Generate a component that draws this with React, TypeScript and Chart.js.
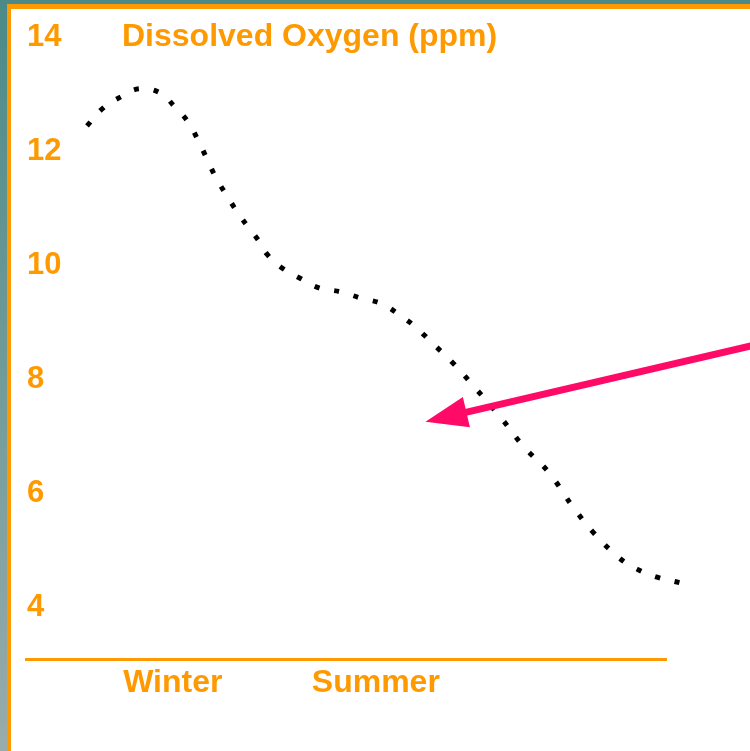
import React, { useEffect, useRef } from "react";
import { Chart, registerables } from "chart.js";

Chart.register(...registerables);

// ---- data ----
const TITLE = "Dissolved Oxygen (ppm)";
const seasonLabels = ["Winter", "Summer"];
const seasonPositions = [22.94, 54.66];
const yTickValues = [4, 6, 8, 10, 12, 14];
const yMin = 3.055;
const yMax = 14;
const xMin = 0;
const xMax = 100;

const timeValues = [
  9.53, 12.03, 14.84, 17.66, 20.94, 23.28, 25.31, 26.88, 28.28, 29.69, 31.41,
  33.13, 34.69, 36.41, 37.66, 40.0, 42.97, 45.78, 49.22, 52.34, 55.63, 58.44,
  60.94, 63.13, 66.56, 70.31, 74.38, 77.66, 81.72, 85.47, 88.59, 92.66, 95.47,
  98.59, 102.19,
];
const oxygenValues = [
  12.4, 12.71, 12.91, 13.05, 12.98, 12.73, 12.47, 12.15, 11.82, 11.49, 11.17,
  10.87, 10.63, 10.38, 10.15, 9.91, 9.72, 9.56, 9.49, 9.38, 9.28, 9.08, 8.87,
  8.63, 8.26, 7.79, 7.26, 6.79, 6.32, 5.72, 5.28, 4.83, 4.63, 4.49, 4.39,
];

// arrow annotation (data coordinates): from [x, y] to tip [x, y]
const arrowStart = [120, 8.72];
const arrowTip = [62.42, 7.215];

const ORANGE = "#ff9900";
const PINK = "#ff0a66";
const FONT = '"Liberation Sans", Arial, Helvetica, sans-serif';

const titlePlugin = {
  id: "sideTitle",
  afterDraw(chart: any) {
    const { ctx, chartArea, scales } = chart;
    ctx.save();
    ctx.font = `bold 32px ${FONT}`;
    ctx.fillStyle = ORANGE;
    ctx.textAlign = "left";
    ctx.textBaseline = "middle";
    ctx.fillText(TITLE, chartArea.left + 96, scales.y.getPixelForValue(yMax) + 2.5);
    ctx.restore();
  },
};

const arrowPlugin = {
  id: "arrow",
  afterDatasetsDraw(chart: any) {
    const { ctx, scales } = chart;
    const x1 = scales.x.getPixelForValue(arrowStart[0]);
    const y1 = scales.y.getPixelForValue(arrowStart[1]);
    const x2 = scales.x.getPixelForValue(arrowTip[0]);
    const y2 = scales.y.getPixelForValue(arrowTip[1]);
    const ang = Math.atan2(y2 - y1, x2 - x1);
    const headLen = 42;
    const headHalf = 15.5;
    const bx = x2 - headLen * Math.cos(ang);
    const by = y2 - headLen * Math.sin(ang);
    const px = -Math.sin(ang);
    const py = Math.cos(ang);
    ctx.save();
    ctx.strokeStyle = PINK;
    ctx.fillStyle = PINK;
    ctx.lineWidth = 7;
    ctx.lineCap = "butt";
    ctx.beginPath();
    ctx.moveTo(x1, y1);
    ctx.lineTo(bx + 4 * Math.cos(ang), by + 4 * Math.sin(ang));
    ctx.stroke();
    ctx.beginPath();
    ctx.moveTo(x2, y2);
    ctx.lineTo(bx + px * headHalf, by + py * headHalf);
    ctx.lineTo(bx - px * headHalf, by - py * headHalf);
    ctx.closePath();
    ctx.fill();
    ctx.restore();
  },
};

export default function App() {
  const ref = useRef<HTMLCanvasElement | null>(null);

  useEffect(() => {
    if (!ref.current) return;
    const chart = new Chart(ref.current, {
      type: "line",
      data: {
        datasets: [
          {
            data: timeValues.map((x, i) => ({ x, y: oxygenValues[i] })),
            borderColor: "#000000",
            borderWidth: 5,
            borderDash: [5, 15],
            borderCapStyle: "butt",
            pointRadius: 0,
            tension: 0.4,
            fill: false,
            clip: false as any,
          },
        ],
      },
      options: {
        animation: false,
        responsive: false,
        devicePixelRatio: 1,
        events: [],
        layout: { padding: { left: 15, top: 25.6, right: 84, bottom: 32 } },
        plugins: { legend: { display: false }, tooltip: { enabled: false }, title: { display: false } },
        scales: {
          x: {
            type: "linear",
            min: xMin,
            max: xMax,
            grid: { display: false, drawTicks: false },
            border: { display: true, color: ORANGE, width: 3 },
            afterBuildTicks: (s: any) => {
              s.ticks = seasonPositions.map((v) => ({ value: v }));
            },
            afterFit: (s: any) => {
              s.height = 60;
            },
            ticks: {
              autoSkip: false,
              maxRotation: 0,
              padding: 5,
              color: ORANGE,
              font: { family: FONT, size: 32, weight: "bold" },
              callback: (_v: any, i: number) => seasonLabels[i],
            },
          },
          y: {
            type: "linear",
            min: yMin,
            max: yMax,
            grid: { display: false, drawTicks: false },
            border: { display: false },
            afterBuildTicks: (s: any) => {
              s.ticks = yTickValues.map((v) => ({ value: v }));
            },
            afterFit: (s: any) => {
              s.width = 0;
            },
            ticks: {
              mirror: true,
              padding: 1,
              labelOffset: 2.5,
              color: ORANGE,
              font: { family: FONT, size: 31, weight: "bold" },
            },
          },
        },
      },
      plugins: [titlePlugin, arrowPlugin],
    } as any);
    return () => chart.destroy();
  }, []);

  return (
    <div
      style={{
        position: "fixed",
        inset: 0,
        overflow: "hidden",
        background: "linear-gradient(#4b8a87, #98acab)",
      }}
    >
      <div
        style={{
          position: "absolute",
          left: 7,
          top: 4,
          width: 780,
          height: 780,
          background: "#ffffff",
          borderTop: `5px solid ${ORANGE}`,
          borderLeft: `4px solid ${ORANGE}`,
        }}
      >
        <canvas ref={ref} width={739} height={742} style={{ display: "block" }} />
      </div>
    </div>
  );
}
